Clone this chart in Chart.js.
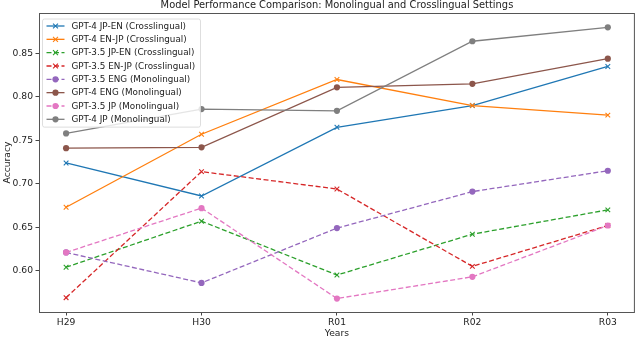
<!DOCTYPE html>
<html>
<head>
<meta charset="utf-8">
<script src="https://cdn.jsdelivr.net/npm/chart.js@4/dist/chart.umd.min.js"></script>
<style>
  html, body { margin: 0; padding: 0; background: #fff; }
  #wrap { width: 640px; height: 338px; }
</style>
</head>
<body>
<div id="wrap"><canvas id="chart" width="640" height="338"></canvas></div>
<script>
// ---- data ----
const TITLE = 'Model Performance Comparison: Monolingual and Crosslingual Settings';
const years = ['H29', 'H30', 'R01', 'R02', 'R03'];
const yTicks = [0.60, 0.65, 0.70, 0.75, 0.80, 0.85];

const gpt4JpEn  = [0.724, 0.686, 0.765, 0.790, 0.835];
const gpt4EnJp  = [0.673, 0.757, 0.820, 0.790, 0.779];
const gpt35JpEn = [0.604, 0.657, 0.595, 0.642, 0.670];
const gpt35EnJp = [0.569, 0.714, 0.694, 0.605, 0.652];
const gpt35Eng  = [0.621, 0.586, 0.649, 0.691, 0.715];
const gpt4Eng   = [0.741, 0.742, 0.811, 0.815, 0.844];
const gpt35Jp   = [0.621, 0.672, 0.568, 0.593, 0.652];
const gpt4Jp    = [0.758, 0.786, 0.784, 0.864, 0.880];

const FONT = '"DejaVu Sans", sans-serif';
const DASH = [5, 2.5];

// label, values, colour, dashed?, marker
const SERIES = [
  ['GPT-4 JP-EN (Crosslingual)',   gpt4JpEn,  '#1f77b4', false, 'x'],
  ['GPT-4 EN-JP (Crosslingual)',   gpt4EnJp,  '#ff7f0e', false, 'x'],
  ['GPT-3.5 JP-EN (Crosslingual)', gpt35JpEn, '#2ca02c', true,  'x'],
  ['GPT-3.5 EN-JP (Crosslingual)', gpt35EnJp, '#d62728', true,  'x'],
  ['GPT-3.5 ENG (Monolingual)',    gpt35Eng,  '#9467bd', true,  'o'],
  ['GPT-4 ENG (Monolingual)',      gpt4Eng,   '#8c564b', false, 'o'],
  ['GPT-3.5 JP (Monolingual)',     gpt35Jp,   '#e377c2', true,  'o'],
  ['GPT-4 JP (Monolingual)',       gpt4Jp,    '#7f7f7f', false, 'o'],
];

const datasets = SERIES.map(([label, vals, color, dashed, marker], i) => ({
  label,
  data: vals.map((v, j) => ({ x: j, y: v })),
  borderColor: color,
  backgroundColor: color,
  borderWidth: 1.3,
  borderDash: dashed ? DASH : [],
  pointStyle: marker === 'x' ? 'crossRot' : 'circle',
  pointRadius: marker === 'x' ? 3.3 : 3.1,
  pointBorderWidth: marker === 'x' ? 1.1 : 0,
  pointBorderColor: color,
  pointBackgroundColor: color,
  tension: 0,
  order: -i,            // later series on top, like matplotlib
}));

// ---- frame, title and matplotlib-style legend ----
const mplDecor = {
  id: 'mplDecor',
  afterDatasetsDraw(chart) {
    const { ctx, chartArea: a } = chart;
    ctx.save();
    // spines
    ctx.strokeStyle = '#555';
    ctx.lineWidth = 1;
    ctx.setLineDash([]);
    ctx.strokeRect(Math.round(a.left) + 0.5, Math.round(a.top) + 0.5, a.right - a.left - 1, a.bottom - a.top);

    // title (top edge is cut off in the reference)
    ctx.fillStyle = '#222';
    ctx.font = '9.9px ' + FONT;
    ctx.textAlign = 'center';
    ctx.textBaseline = 'alphabetic';
    ctx.fillText(TITLE, (a.left + a.right) / 2, 7.8);

    // legend
    const ds = chart.data.datasets;
    const bx = 42.5, by = 19, bw = 158, rowH = 13.33, bh = rowH * ds.length + 1.5;
    ctx.beginPath();
    ctx.roundRect(bx, by, bw, bh, 2);
    ctx.fillStyle = 'rgba(255,255,255,0.8)';
    ctx.fill();
    ctx.strokeStyle = '#d6d6d6';
    ctx.lineWidth = 0.8;
    ctx.stroke();
    ctx.font = '8.8px ' + FONT;
    ctx.textAlign = 'left';
    ctx.textBaseline = 'middle';
    ds.forEach((d, i) => {
      const cy = 26 + i * rowH;
      ctx.strokeStyle = d.borderColor;
      ctx.lineWidth = d.borderWidth;
      ctx.setLineDash(d.borderDash);
      ctx.beginPath();
      ctx.moveTo(46.5, cy);
      ctx.lineTo(64.5, cy);
      ctx.stroke();
      ctx.setLineDash([]);
      const mx = 55.5;
      if (d.pointStyle === 'circle') {
        ctx.fillStyle = d.pointBackgroundColor;
        ctx.beginPath();
        ctx.arc(mx, cy, d.pointRadius, 0, Math.PI * 2);
        ctx.fill();
      } else {
        const r = d.pointRadius * 0.75;
        ctx.lineWidth = d.pointBorderWidth;
        ctx.beginPath();
        ctx.moveTo(mx - r, cy - r); ctx.lineTo(mx + r, cy + r);
        ctx.moveTo(mx - r, cy + r); ctx.lineTo(mx + r, cy - r);
        ctx.stroke();
      }
      ctx.fillStyle = '#222';
      ctx.fillText(d.label, 71.5, cy + 0.5);
    });
    ctx.restore();
  },
};

new Chart(document.getElementById('chart'), {
  type: 'line',
  data: { datasets },
  plugins: [mplDecor],
  options: {
    responsive: false,
    animation: false,
    events: [],
    layout: { padding: { top: 13, right: 1, bottom: 0, left: 0 } },
    plugins: { legend: { display: false }, tooltip: { enabled: false }, title: { display: false } },
    scales: {
      x: {
        type: 'linear',
        min: -0.2, max: 4.2,
        afterBuildTicks: (s) => { s.ticks = years.map((_, i) => ({ value: i })); },
        afterFit: (s) => { s.height = 26; },
        border: { display: false },
        grid: { drawOnChartArea: false, drawTicks: true, tickLength: 3.5, tickColor: '#444' },
        ticks: { color: '#222', font: { family: FONT, size: 9.2 }, padding: 2, maxRotation: 0,
                 callback: (v) => years[v] },
        title: { display: true, text: 'Years', color: '#222', font: { family: FONT, size: 9.2, lineHeight: 1 },
                 padding: { top: 0, bottom: 0 } },
      },
      y: {
        min: 0.5525, max: 0.8965,
        afterBuildTicks: (s) => { s.ticks = yTicks.map((v) => ({ value: v })); },
        afterFit: (s) => { s.width = 39; },
        border: { display: false },
        grid: { drawOnChartArea: false, drawTicks: true, tickLength: 3.5, tickColor: '#444' },
        ticks: { color: '#222', font: { family: FONT, size: 9.2 }, padding: 2.5,
                 callback: (v) => v.toFixed(2) },
        title: { display: true, text: 'Accuracy', color: '#222', font: { family: FONT, size: 9.2, lineHeight: 1.2 },
                 padding: { top: 1.6, bottom: 0 } },
      },
    },
  },
});
</script>
</body>
</html>
